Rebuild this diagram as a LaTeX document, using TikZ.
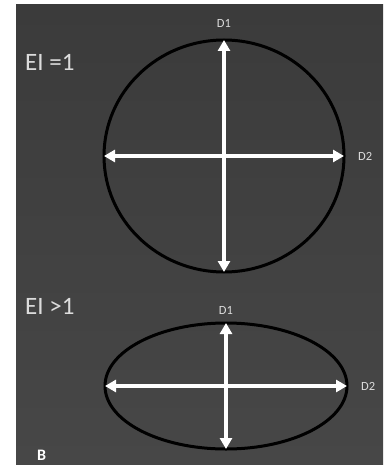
\documentclass[tikz,border=0pt]{standalone}
\usepackage{fontspec}
\setmainfont{Carlito}
\usepackage{xcolor}
\usetikzlibrary{shapes.geometric, positioning, arrows.meta}

\definecolor{panel}{HTML}{3B3B3B}
\definecolor{panellow}{HTML}{474747}
\definecolor{ink}{HTML}{DCDCDC}

\begin{document}
\begin{tikzpicture}[
      x=1pt, y=-1pt,
      outline/.style={draw=black, ellipse, line width=3pt, inner sep=0pt, outer sep=0pt},
      axis/.style={draw=white, line width=3.2pt, {Triangle[length=11pt,width=12pt]}-{Triangle[length=11pt,width=12pt]}},
      lbl/.style={text=ink, inner sep=0pt, font=\fontsize{12.5}{12.5}\selectfont},
      title/.style={text=ink, inner sep=0pt, anchor=west, font=\fontsize{25}{25}\selectfont}
    ]
      % frame
      \useasboundingbox (0,0) rectangle (383,465);
      \fill[white] (0,0) rectangle (383,465);
      \shade[top color=panel, bottom color=panellow] (16,5) rectangle (383,465);

      % round case
      \node[outline, minimum width=240pt, minimum height=232pt] (round) at (224,156) {};
      \draw[axis] (round.west) -- (round.east);
      \draw[axis] (round.south) -- (round.north);
      \node[lbl, above=12pt of round.north] (d1top) {D1};
      \node[lbl, right=14pt of round.east] (d2top) {D2};
      \node[title] (eione) at (25,62) {EI =1};

      % elongated case
      \node[outline, minimum width=242pt, minimum height=126pt] (oval) at (226,386) {};
      \draw[axis] (oval.west) -- (oval.east);
      \draw[axis] (oval.south) -- (oval.north);
      \node[lbl, above=8pt of oval.north] (d1low) {D1};
      \node[lbl, right=14pt of oval.east] (d2low) {D2};
      \node[title] (eimore) at (25,306) {EI >1};

      \node[text=white, inner sep=0pt, anchor=west, font=\bfseries\fontsize{16}{16}\selectfont] (tag) at (37,455) {B};
  \end{tikzpicture}
\end{document}
